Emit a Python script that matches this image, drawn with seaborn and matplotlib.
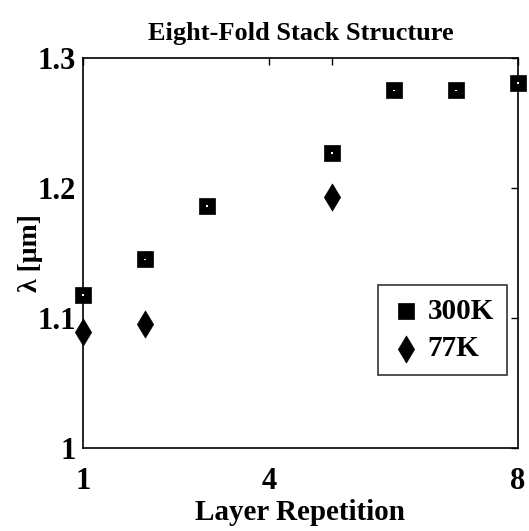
import matplotlib
matplotlib.use("Agg")
import matplotlib.pyplot as plt
import seaborn as sns
import pandas as pd

# Emission wavelength versus number of layer repetitions
reps_300k = [1, 2, 3, 5, 6, 7, 8]
wl_300k = [1.118, 1.145, 1.186, 1.227, 1.275, 1.275, 1.281]
reps_77k = [1, 2, 5]
wl_77k = [1.089, 1.095, 1.193]

x_ticks = [1, 4, 5, 8]
x_tick_labels = ["1", "4", "", "8"]
y_ticks = [1.0, 1.1, 1.2, 1.3]
y_tick_labels = ["1", "1.1", "1.2", "1.3"]

sns.set_theme(style="white")
plt.rcParams["font.family"] = ["Liberation Serif", "DejaVu Serif"]
plt.rcParams["font.weight"] = "bold"
plt.rcParams["text.color"] = "black"
plt.rcParams["axes.labelcolor"] = "black"

df300 = pd.DataFrame({"reps": reps_300k, "wl": wl_300k})
df77 = pd.DataFrame({"reps": reps_77k, "wl": wl_77k})

fig = plt.figure(figsize=(5.29, 5.31), dpi=100)
ax = fig.add_axes([0.157, 0.1563, 0.822, 0.7345])

sns.scatterplot(data=df300, x="reps", y="wl", ax=ax, marker="s", s=125,
                color="black", edgecolor="black", linewidth=0.5,
                label="300K", clip_on=False, zorder=3)
sns.scatterplot(data=df77, x="reps", y="wl", ax=ax, marker="d", s=190,
                color="black", edgecolor="black", linewidth=0.5,
                label="77K", clip_on=False, zorder=3)
# small white centre dot on the square markers
sns.scatterplot(data=df300, x="reps", y="wl", ax=ax, marker="s", s=2,
                color="white", edgecolor="none", linewidth=0,
                legend=False, clip_on=False, zorder=4)

ax.set_xlim(1, 8)
ax.set_ylim(1.0, 1.3)
ax.set_xticks(x_ticks)
ax.set_xticklabels(x_tick_labels)
ax.set_yticks(y_ticks)
ax.set_yticklabels(y_tick_labels)
ax.tick_params(direction="in", length=5, width=1, top=True, right=True,
               labelsize=22, colors="black")
ax.tick_params(axis="x", pad=14)
ax.tick_params(axis="y", pad=5)
for lab in ax.get_xticklabels() + ax.get_yticklabels():
    lab.set_fontweight("bold")
for sp in ax.spines.values():
    sp.set_visible(True)
    sp.set_color("black")
    sp.set_linewidth(1.2)

ax.set_xlabel("Layer Repetition", fontsize=21, fontweight="bold", labelpad=2)
ax.set_ylabel("λ [μm]", fontsize=20, fontweight="bold", labelpad=-4)
ax.set_title("Eight-Fold Stack Structure", fontsize=19, fontweight="bold", pad=13)

leg = ax.legend(loc="upper right", bbox_to_anchor=(0.975, 0.418),
                frameon=True, fancybox=False, edgecolor="black",
                prop={"size": 21, "weight": "bold"}, handlelength=1.0,
                handletextpad=0.25, borderpad=0.45, labelspacing=0.35,
                borderaxespad=0)
leg.get_frame().set_linewidth(1.2)
for t in leg.get_texts():
    t.set_color("black")

fig.savefig("out.png", dpi=100, facecolor="white")
